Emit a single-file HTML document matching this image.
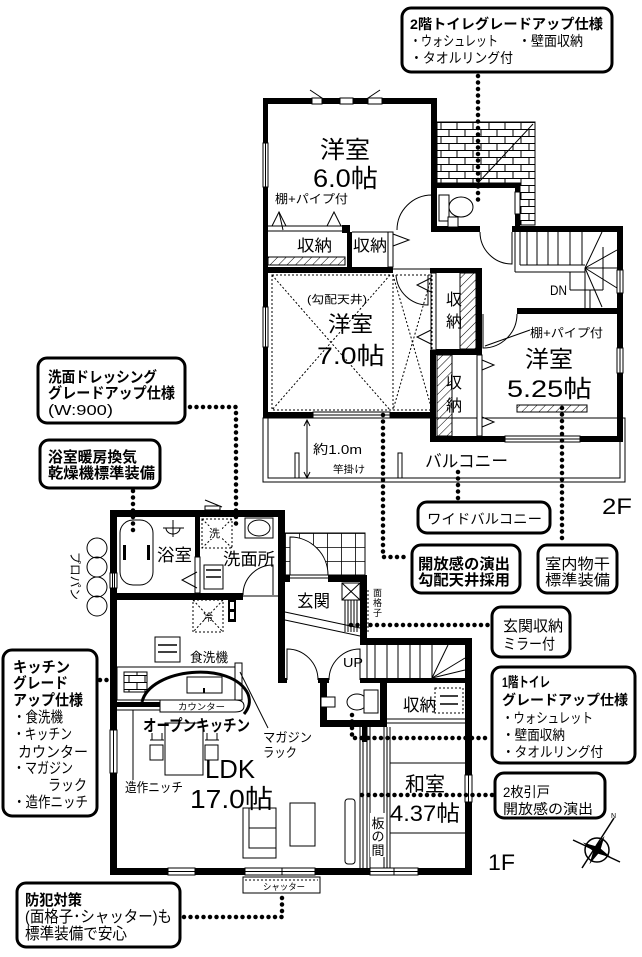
<!DOCTYPE html>
<html><head><meta charset="utf-8">
<style>
html,body{margin:0;padding:0;background:#fff;}
svg{display:block;}
text{font-family:"Liberation Sans","Noto Sans CJK JP",sans-serif;fill:#000;}
.b{font-weight:bold;}
.dot{stroke:#000;stroke-width:4.5;stroke-linecap:round;stroke-dasharray:0 6.5;fill:none;}
.ds{stroke:#000;stroke-width:1;stroke-dasharray:2 2;fill:none;}
.t{stroke:#000;stroke-width:1;fill:none;}
.tw{stroke:#000;stroke-width:1;fill:#fff;}
.cb{stroke:#000;stroke-width:3;fill:#fff;}
</style></head><body>
<svg width="642" height="957" viewBox="0 0 642 957" xmlns="http://www.w3.org/2000/svg">
<defs>
<pattern id="hatch" width="6" height="6" patternUnits="userSpaceOnUse" patternTransform="rotate(45)"><line x1="0" y1="0" x2="0" y2="6" stroke="#000" stroke-width="1"/></pattern>
<pattern id="brick" width="16" height="14" patternUnits="userSpaceOnUse" x="437" y="122">
<rect width="16" height="14" fill="#fff"/>
<path d="M0 0.5H16 M0 7.5H16 M4 0V7 M12 7V14" stroke="#000" stroke-width="1" fill="none"/>
</pattern>
<pattern id="tile" width="14" height="14" patternUnits="userSpaceOnUse" x="285" y="533"><path d="M0 0.5H14 M0.5 0V14" stroke="#000" stroke-width="0.8" fill="none"/></pattern>
</defs>
<rect width="642" height="957" fill="#fff"/>

<!-- ================= 2F ================= -->
<!-- brick roof area -->
<polygon points="437,122 535,122 535,225 520,225 520,183 437,183" fill="url(#brick)" stroke="#000" stroke-width="1"/>
<line x1="533" y1="124" x2="478" y2="183" class="t"/>

<!-- balcony -->
<rect x="263" y="418" width="362" height="64" class="t"/>
<rect x="268" y="418" width="352" height="60" class="t"/>
<rect x="295" y="453" width="4" height="25" class="tw"/>
<rect x="398" y="453" width="4" height="25" class="tw"/>
<line x1="307" y1="420" x2="307" y2="478" class="t"/>
<polyline points="304,426 307,420 310,426" class="t"/>
<polyline points="304,472 307,478 310,472" class="t"/>

<!-- walls -->
<g fill="#000">
<rect x="263" y="98" width="174" height="6"/>
<rect x="263" y="98" width="5" height="320"/>
<rect x="431" y="98" width="6" height="134"/>
<rect x="437" y="183" width="83" height="5"/>
<rect x="515" y="183" width="5" height="49"/>
<rect x="437" y="226" width="43" height="6"/>
<rect x="512" y="226" width="111" height="6"/>
<rect x="617" y="226" width="6" height="216"/>
<rect x="342" y="225" width="8" height="8"/>
<rect x="263" y="267" width="130" height="6"/>
<rect x="347" y="232" width="5" height="35"/>
<rect x="430" y="268" width="6" height="5"/>
<rect x="430" y="350" width="6" height="92"/>
<rect x="436" y="268" width="46" height="5"/>
<rect x="476" y="268" width="6" height="87"/>
<rect x="436" y="349" width="46" height="6"/>
<rect x="263" y="412" width="172" height="6"/>
<rect x="430" y="436" width="193" height="6"/>
<rect x="517" y="308" width="106" height="6"/>
</g>
<!-- closet folding doors 6.0 -->
<line x1="268" y1="226" x2="342" y2="226" class="t"/>
<line x1="268" y1="231" x2="342" y2="231" class="t"/>
<polyline points="272,226 279,212 286,226" class="t"/>
<polyline points="327,226 334,212 341,226" class="t"/>
<line x1="279" y1="212" x2="283" y2="230" class="t"/>
<!-- second closet -->
<line x1="352" y1="232" x2="393" y2="232" class="t"/>
<rect x="388" y="232" width="5" height="35" class="tw"/>
<polyline points="393,234 409,240 393,246" class="t"/>
<!-- hatched strips -->
<rect x="268" y="257" width="77" height="8" fill="url(#hatch)" stroke="#000" stroke-width="1"/>
<rect x="460" y="273" width="16" height="76" fill="url(#hatch)" stroke="#000" stroke-width="1"/>
<rect x="437" y="355" width="15" height="81" fill="url(#hatch)" stroke="#000" stroke-width="1"/>
<rect x="517" y="405" width="70" height="7" fill="url(#hatch)" stroke="#000" stroke-width="1"/>
<!-- upper closet door (left) -->
<rect x="431" y="273" width="5" height="77" class="tw"/>
<polyline points="431,278 417,285 431,292" class="t"/>
<polyline points="431,330 417,337 431,344" class="t"/>
<!-- lower closet door (right) -->
<rect x="477" y="355" width="5" height="81" class="tw"/>
<polyline points="482,360 494,365 482,370" class="t"/>
<polyline points="482,417 494,422 482,427" class="t"/>
<!-- 7.0 corridor top thin -->
<line x1="393" y1="269" x2="430" y2="269" class="t"/>
<!-- dotted ceiling lines -->
<rect x="272" y="275" width="160" height="135" class="ds"/>
<line x1="393" y1="275" x2="393" y2="410" class="ds"/>
<line x1="272" y1="275" x2="390" y2="410" class="ds"/>
<line x1="390" y1="275" x2="272" y2="410" class="ds"/>
<line x1="393" y1="275" x2="432" y2="410" class="ds"/>
<line x1="432" y1="275" x2="393" y2="410" class="ds"/>
<!-- doors 2F -->
<path d="M397,230 A35,35 0 0 1 432,195 L432,230" class="t"/>
<path d="M480,232 A32,32 0 0 0 512,264 L512,232" class="t"/>
<path d="M396,275 A32,32 0 0 0 428,305 L428,275" class="t"/>
<path d="M517,314 A34,34 0 0 1 483,348 L483,314" class="t"/>
<line x1="485" y1="346" x2="530" y2="330" class="t"/>
<!-- 2F toilet -->
<rect x="439" y="195" width="10" height="26" class="tw"/>
<ellipse cx="461" cy="207" rx="12" ry="10" class="tw"/>
<rect x="448" y="217" width="10" height="10" class="tw"/>
<rect x="515" y="192" width="5" height="22" class="tw"/>
<!-- stairs 2F -->
<line x1="515" y1="232" x2="515" y2="272" class="t"/>
<line x1="515" y1="272" x2="585" y2="272" class="t"/>
<line x1="520" y1="265" x2="585" y2="265" class="t"/>
<line x1="520" y1="232" x2="520" y2="265" class="t"/>
<g class="t">
<line x1="527" y1="232" x2="527" y2="265"/>
<line x1="537" y1="232" x2="537" y2="265"/>
<line x1="548" y1="232" x2="548" y2="265"/>
<line x1="558" y1="232" x2="558" y2="265"/>
<line x1="570" y1="232" x2="570" y2="265"/>
<line x1="582" y1="232" x2="582" y2="265"/>
<line x1="585" y1="268" x2="602" y2="232"/>
<line x1="585" y1="268" x2="617" y2="250"/>
<line x1="585" y1="268" x2="617" y2="268"/>
<line x1="585" y1="268" x2="617" y2="288"/>
<line x1="585" y1="268" x2="602" y2="307"/>
<line x1="585" y1="268" x2="585" y2="308"/>
<line x1="570" y1="272" x2="570" y2="290"/>
<line x1="570" y1="290" x2="603" y2="290"/>
<line x1="603" y1="247" x2="603" y2="290"/>
<line x1="590" y1="308" x2="590" y2="290"/>
</g>
<!-- 2F windows -->
<rect x="312" y="98" width="10" height="6" class="tw"/>
<rect x="340" y="98" width="13" height="6" class="tw"/>
<rect x="368" y="98" width="14" height="6" class="tw"/>
<line x1="310" y1="90" x2="322" y2="98" class="t"/>
<line x1="368" y1="98" x2="380" y2="90" class="t"/>
<rect x="263" y="143" width="5" height="44" class="tw"/><line x1="265.5" y1="143" x2="265.5" y2="187" class="t"/>
<rect x="263" y="307" width="5" height="40" class="tw"/><line x1="265.5" y1="307" x2="265.5" y2="347" class="t"/>
<rect x="313" y="412" width="77" height="6" class="tw"/><line x1="313" y1="415" x2="390" y2="415" class="t"/>
<rect x="505" y="436" width="75" height="6" class="tw"/><line x1="505" y1="439" x2="580" y2="439" class="t"/>
<rect x="617" y="270" width="6" height="23" class="tw"/><line x1="620" y1="270" x2="620" y2="293" class="t"/>
<rect x="617" y="348" width="6" height="25" class="tw"/><line x1="620" y1="348" x2="620" y2="373" class="t"/>

<!-- 2F texts -->
<text x="320" y="158" font-size="24" textLength="50" lengthAdjust="spacingAndGlyphs">洋室</text>
<text x="313" y="187" font-size="25" textLength="65" lengthAdjust="spacingAndGlyphs">6.0帖</text>
<text x="275" y="203" font-size="12" textLength="73" lengthAdjust="spacingAndGlyphs">棚+パイプ付</text>
<text x="297" y="251" font-size="16" textLength="35" lengthAdjust="spacingAndGlyphs">収納</text>
<text x="353" y="251" font-size="16" textLength="34" lengthAdjust="spacingAndGlyphs">収納</text>
<text x="307" y="303" font-size="11" textLength="60" lengthAdjust="spacingAndGlyphs">(勾配天井)</text>
<text x="328" y="332" font-size="22" textLength="45" lengthAdjust="spacingAndGlyphs">洋室</text>
<text x="317" y="364" font-size="24" textLength="68" lengthAdjust="spacingAndGlyphs">7.0帖</text>
<text x="446" y="305" font-size="16">収</text>
<text x="446" y="327" font-size="16">納</text>
<text x="446" y="388" font-size="16">収</text>
<text x="446" y="411" font-size="16">納</text>
<text x="530" y="337" font-size="12" textLength="73" lengthAdjust="spacingAndGlyphs">棚+パイプ付</text>
<text x="525" y="367" font-size="23" textLength="48" lengthAdjust="spacingAndGlyphs">洋室</text>
<text x="507" y="397" font-size="24" textLength="85" lengthAdjust="spacingAndGlyphs">5.25帖</text>
<text x="550" y="295" font-size="14" textLength="17" lengthAdjust="spacingAndGlyphs">DN</text>
<text x="313" y="454" font-size="13" textLength="49" lengthAdjust="spacingAndGlyphs">約1.0m</text>
<text x="333" y="473" font-size="10" textLength="32" lengthAdjust="spacingAndGlyphs">竿掛け</text>
<text x="425" y="467" font-size="17" textLength="83" lengthAdjust="spacingAndGlyphs">バルコニー</text>
<text x="602" y="514" font-size="22" textLength="30" lengthAdjust="spacingAndGlyphs">2F</text>

<!-- ================= 1F ================= -->
<!-- porch tiles -->
<rect x="285" y="533" width="80" height="42" fill="url(#tile)" stroke="#000" stroke-width="1"/>
<path d="M290,575 L290,537 A38,38 0 0 1 328,575 Z" class="tw"/>

<g fill="#000">
<rect x="110" y="510" width="175" height="7"/>
<rect x="110" y="510" width="7" height="365"/>
<rect x="195" y="517" width="5" height="40"/>
<rect x="110" y="593" width="133" height="7"/>
<rect x="278" y="510" width="7" height="173"/>
<rect x="285" y="575" width="5" height="7"/>
<rect x="328" y="575" width="39" height="7"/>
<rect x="360" y="575" width="7" height="70"/>
<rect x="360" y="638" width="112" height="7"/>
<rect x="465" y="638" width="7" height="237"/>
<rect x="278" y="678" width="9" height="5"/>
<rect x="318" y="678" width="11" height="5"/>
<rect x="360" y="678" width="112" height="5"/>
<rect x="320" y="678" width="7" height="49"/>
<rect x="320" y="720" width="67" height="7"/>
<rect x="380" y="678" width="7" height="49"/>
<rect x="110" y="868" width="362" height="7"/>
<rect x="362" y="727" width="5" height="15"/>
<rect x="228" y="600" width="8" height="22"/>
</g>
<line x1="290" y1="578" x2="328" y2="578" class="t"/>
<rect x="230" y="602" width="4" height="7" fill="#fff"/>
<rect x="230" y="612" width="4" height="7" fill="#fff"/>
<!-- bath divider lower -->
<rect x="195" y="557" width="5" height="36" class="tw"/>
<polyline points="197,572 182,580 197,588" class="t"/>
<line x1="243" y1="596" x2="278" y2="596" class="t"/>
<!-- windows 1F -->
<rect x="110" y="573" width="7" height="15" class="tw"/><line x1="112.5" y1="573" x2="112.5" y2="588" class="t"/><line x1="114.5" y1="573" x2="114.5" y2="588" class="t"/>
<rect x="110" y="730" width="7" height="43" class="tw"/><line x1="113.5" y1="730" x2="113.5" y2="773" class="t"/>
<rect x="465" y="775" width="7" height="27" class="tw"/><line x1="468.5" y1="775" x2="468.5" y2="802" class="t"/>
<rect x="168" y="868" width="27" height="7" class="tw"/><line x1="168" y1="871.5" x2="195" y2="871.5" class="t"/>
<rect x="245" y="868" width="37" height="7" class="tw"/><line x1="245" y1="871.5" x2="282" y2="871.5" class="t"/>
<rect x="282" y="868" width="33" height="7" class="tw"/><line x1="282" y1="871.5" x2="315" y2="871.5" class="t"/>
<rect x="370" y="868" width="24" height="7" class="tw"/><line x1="370" y1="871.5" x2="394" y2="871.5" class="t"/>
<rect x="394" y="868" width="24" height="7" class="tw"/><line x1="394" y1="871.5" x2="418" y2="871.5" class="t"/>
<!-- vent -->
<rect x="205" y="506" width="15" height="4" class="tw"/>
<line x1="205" y1="500" x2="222" y2="507" class="t"/>
<!-- shutter -->
<rect x="243" y="877" width="77" height="16" class="tw"/>
<line x1="245" y1="880" x2="318" y2="880" class="ds"/>
<text x="263" y="890" font-size="9" textLength="42" lengthAdjust="spacingAndGlyphs">シャッター</text>

<!-- bath -->
<rect x="120" y="520" width="33" height="65" rx="13" class="t"/>
<rect x="123" y="545" width="3" height="15" fill="#000"/>
<rect x="147" y="545" width="3" height="15" fill="#000"/>
<line x1="163" y1="528" x2="184" y2="528" class="t"/>
<line x1="173" y1="520" x2="173" y2="537" class="t"/>
<path d="M166,528 A7,6 0 0 0 180,528" class="t"/>
<!-- 洗 box -->
<rect x="202" y="519" width="30" height="29" class="ds"/>
<line x1="202" y1="519" x2="232" y2="548" class="ds"/>
<line x1="232" y1="519" x2="202" y2="548" class="ds"/>
<rect x="208" y="526" width="14" height="13" fill="#fff"/>
<text x="209" y="537" font-size="11">洗</text>
<!-- sink -->
<rect x="245" y="518" width="28" height="20" class="t"/>
<ellipse cx="259" cy="528" rx="11" ry="8" class="t"/>
<!-- washer box -->
<rect x="204" y="565" width="19" height="24" class="t"/>
<line x1="206" y1="570" x2="221" y2="570" stroke="#000" stroke-width="1.5"/>
<line x1="206" y1="577" x2="221" y2="577" stroke="#000" stroke-width="1.5"/>
<!-- 洗面所 door -->
<path d="M273,595 L273,565 A30,30 0 0 0 243,595" class="t"/>

<!-- genkan -->
<rect x="342" y="583" width="18" height="17" class="t"/>
<line x1="342" y1="583" x2="360" y2="600" class="t"/>
<line x1="360" y1="583" x2="342" y2="600" class="t"/>
<g class="t">
<line x1="345" y1="600" x2="345" y2="632"/>
<line x1="348" y1="600" x2="348" y2="632"/>
<line x1="351" y1="600" x2="351" y2="632"/>
<line x1="354" y1="600" x2="354" y2="632"/>
<line x1="357" y1="600" x2="357" y2="632"/>
<line x1="285" y1="612" x2="360" y2="628"/>
<line x1="285" y1="620" x2="360" y2="636"/>
</g>
<line x1="368" y1="590" x2="368" y2="632" class="ds"/>
<text x="373" y="596" font-size="9">面</text>
<text x="373" y="606" font-size="9">格</text>
<text x="373" y="616" font-size="9">子</text>

<!-- hall doors -->
<path d="M287,680 L287,649 A31,31 0 0 1 318,680" class="t"/>
<path d="M360,680 L360,649 A31,31 0 0 0 329,680" class="t"/>

<!-- stairs 1F -->
<g class="t">
<line x1="367" y1="645" x2="367" y2="678"/>
<line x1="375" y1="645" x2="375" y2="678"/>
<line x1="387" y1="645" x2="387" y2="678"/>
<line x1="398" y1="645" x2="398" y2="678"/>
<line x1="410" y1="645" x2="410" y2="678"/>
<line x1="420" y1="645" x2="420" y2="678"/>
<line x1="432" y1="645" x2="432" y2="678"/>
<line x1="432" y1="678" x2="448" y2="645"/>
<line x1="432" y1="678" x2="465" y2="658"/>
<line x1="432" y1="678" x2="465" y2="670"/>
</g>
<!-- toilet 1F -->
<rect x="321" y="697" width="14" height="10" class="tw"/>
<ellipse cx="357" cy="702" rx="10" ry="8" class="tw"/>
<rect x="364" y="690" width="14" height="23" class="tw"/>
<!-- 収納 1F -->
<rect x="435" y="688" width="28" height="25" class="ds"/>
<line x1="440" y1="696" x2="458" y2="696" stroke="#000" stroke-width="1.5"/>
<line x1="440" y1="704" x2="458" y2="704" stroke="#000" stroke-width="1.5"/>
<line x1="387" y1="719" x2="465" y2="719" class="t"/>
<line x1="387" y1="723" x2="465" y2="723" class="t"/>
<!-- itanoma / washitsu -->
<g class="t">
<line x1="360" y1="727" x2="360" y2="868"/>
<line x1="363" y1="742" x2="363" y2="868"/>
<line x1="367" y1="727" x2="367" y2="868"/>
<line x1="370" y1="727" x2="370" y2="868"/>
<line x1="384" y1="727" x2="384" y2="868"/>
<line x1="387" y1="727" x2="387" y2="868"/>
<line x1="390" y1="727" x2="390" y2="868"/>
<line x1="390" y1="763" x2="465" y2="763"/>
<line x1="390" y1="833" x2="465" y2="833"/>
</g>
<rect x="370" y="813" width="15" height="44" fill="#fff"/>
<text x="378" y="828" font-size="13" text-anchor="middle">板</text>
<text x="378" y="841" font-size="13" text-anchor="middle">の</text>
<text x="378" y="855" font-size="13" text-anchor="middle">間</text>

<!-- kitchen -->
<rect x="193" y="600" width="30" height="32" class="ds"/>
<line x1="193" y1="600" x2="223" y2="632" class="ds"/>
<line x1="223" y1="600" x2="193" y2="632" class="ds"/>
<text x="203" y="621" font-size="10">冷</text>
<rect x="155" y="637" width="25" height="25" class="t"/>
<line x1="158" y1="645" x2="177" y2="645" stroke="#000" stroke-width="1.5"/>
<line x1="158" y1="652" x2="177" y2="652" stroke="#000" stroke-width="1.5"/>
<rect x="117" y="667" width="118" height="33" class="t"/>
<rect x="235" y="663" width="7" height="37" class="t"/>
<rect x="124" y="672" width="23" height="20" fill="url(#brick)" stroke="#000" stroke-width="1"/>
<rect x="187" y="677" width="35" height="16" class="t"/>
<line x1="204" y1="688" x2="204" y2="693" stroke="#000" stroke-width="2"/>
<path d="M160,700 L235,700 Q244,700 244,706 Q244,712 235,712 L160,712 Z" class="tw"/>
<rect x="117" y="702" width="43" height="5" fill="#000"/>
<line x1="117" y1="710" x2="160" y2="710" class="t"/>
<line x1="133" y1="710" x2="133" y2="780" class="t"/>
<path d="M142,702 C150,668 232,660 248,694 C251,702 249,708 244,714" stroke="#000" stroke-width="3" fill="none"/>
<line x1="240" y1="672" x2="268" y2="728" class="t"/>
<text x="178" y="710" font-size="9" textLength="47" lengthAdjust="spacingAndGlyphs">カウンター</text>
<!-- dining -->
<rect x="165" y="723" width="38" height="52" class="tw"/>
<rect x="150" y="745" width="13" height="15" class="t"/>
<rect x="205" y="745" width="13" height="15" class="t"/>
<line x1="152" y1="733" x2="152" y2="740" class="t"/><line x1="162" y1="733" x2="162" y2="740" class="t"/><line x1="150" y1="740" x2="164" y2="740" class="t"/>
<line x1="207" y1="733" x2="207" y2="740" class="t"/><line x1="217" y1="733" x2="217" y2="740" class="t"/><line x1="205" y1="740" x2="219" y2="740" class="t"/>
<!-- living -->
<rect x="243" y="808" width="33" height="50" class="t"/>
<rect x="249" y="808" width="27" height="40" class="t"/>
<line x1="249" y1="828" x2="276" y2="828" class="t"/>
<rect x="290" y="803" width="25" height="43" class="t"/>
<rect x="345" y="799" width="10" height="65" rx="3" class="t"/>

<!-- propane -->
<g class="t" stroke-width="1.3">
<circle cx="97" cy="548" r="10"/>
<circle cx="97" cy="567" r="10"/>
<circle cx="97" cy="587" r="10"/>
<circle cx="97" cy="606" r="10"/>
</g>
<text transform="translate(71,552) rotate(90)" font-size="12" textLength="48" lengthAdjust="spacingAndGlyphs">プロパン</text>

<!-- 1F texts -->
<text x="157" y="561" font-size="17" textLength="35" lengthAdjust="spacingAndGlyphs">浴室</text>
<text x="223" y="565" font-size="17" textLength="52" lengthAdjust="spacingAndGlyphs">洗面所</text>
<text x="297" y="607" font-size="17" textLength="33" lengthAdjust="spacingAndGlyphs">玄関</text>
<text x="190" y="662" font-size="13" textLength="38" lengthAdjust="spacingAndGlyphs">食洗機</text>
<text x="343" y="667" font-size="13" textLength="20" lengthAdjust="spacingAndGlyphs">UP</text>
<text x="403" y="711" font-size="17" textLength="33" lengthAdjust="spacingAndGlyphs">収納</text>
<text x="405" y="791" font-size="20" textLength="40" lengthAdjust="spacingAndGlyphs">和室</text>
<text x="390" y="821" font-size="22" textLength="70" lengthAdjust="spacingAndGlyphs">4.37帖</text>
<text x="143" y="731" font-size="16" class="b" textLength="107" lengthAdjust="spacingAndGlyphs">オープンキッチン</text>
<text x="263" y="742" font-size="13" textLength="49" lengthAdjust="spacingAndGlyphs">マガジン</text>
<text x="263" y="757" font-size="13" textLength="34" lengthAdjust="spacingAndGlyphs">ラック</text>
<text x="205" y="778" font-size="26" textLength="50" lengthAdjust="spacingAndGlyphs">LDK</text>
<text x="190" y="808" font-size="26" textLength="83" lengthAdjust="spacingAndGlyphs">17.0帖</text>
<text x="125" y="792" font-size="13" textLength="58" lengthAdjust="spacingAndGlyphs">造作ニッチ</text>
<text x="488" y="870" font-size="22" textLength="27" lengthAdjust="spacingAndGlyphs">1F</text>

<!-- compass -->
<circle cx="597" cy="850" r="12" fill="none" stroke="#000" stroke-width="1.5"/>
<line x1="582" y1="868" x2="614" y2="818" stroke="#000" stroke-width="1.5"/>
<line x1="573" y1="840" x2="620" y2="862" stroke="#000" stroke-width="1.5"/>
<polygon points="604.5,836 600.8,848.8 611.1,857.5 598.2,853.8 589.5,864.1 593.2,851.2 582.9,842.5 595.8,846.2" fill="#000"/>
<text x="611" y="818" font-size="7">N</text>

<!-- ================= dotted leaders ================= -->
<path d="M478,76 V200" class="dot"/>
<path d="M190,407 H236 V530" class="dot"/>
<path d="M133,491 V532" class="dot"/>
<path d="M383,415 V557 H410" class="dot"/>
<path d="M458,472 V500" class="dot"/>
<path d="M562,408 V542" class="dot"/>
<path d="M351,625 H490" class="dot"/>
<path d="M352,715 V738 H490" class="dot"/>
<path d="M362,795 H493" class="dot"/>
<path d="M100,680 H115" class="dot"/>
<path d="M184,917 H282 V896" class="dot"/>

<!-- ================= callouts ================= -->
<rect x="402" y="8" width="210" height="64" rx="9" class="cb"/>
<text x="410" y="29" font-size="14" class="b" textLength="193" lengthAdjust="spacingAndGlyphs">2階トイレグレードアップ仕様</text>
<text x="410" y="46" font-size="14" textLength="88" lengthAdjust="spacingAndGlyphs">・ウォシュレット</text>
<text x="518" y="46" font-size="14" textLength="65" lengthAdjust="spacingAndGlyphs">・壁面収納</text>
<text x="410" y="63" font-size="14" textLength="103" lengthAdjust="spacingAndGlyphs">・タオルリング付</text>

<rect x="38" y="358" width="147" height="65" rx="9" class="cb"/>
<text x="48" y="382" font-size="15" class="b" textLength="109" lengthAdjust="spacingAndGlyphs">洗面ドレッシング</text>
<text x="48" y="398" font-size="15" class="b" textLength="127" lengthAdjust="spacingAndGlyphs">グレードアップ仕様</text>
<text x="48" y="415" font-size="15" textLength="65" lengthAdjust="spacingAndGlyphs">(W:900)</text>

<rect x="40" y="440" width="120" height="48" rx="9" class="cb"/>
<text x="48" y="462" font-size="15" class="b" textLength="89" lengthAdjust="spacingAndGlyphs">浴室暖房換気</text>
<text x="48" y="478" font-size="15" class="b" textLength="107" lengthAdjust="spacingAndGlyphs">乾燥機標準装備</text>

<rect x="3" y="650" width="94" height="166" rx="9" class="cb"/>
<text x="13" y="672" font-size="15" class="b" textLength="57" lengthAdjust="spacingAndGlyphs">キッチン</text>
<text x="13" y="688" font-size="15" class="b" textLength="55" lengthAdjust="spacingAndGlyphs">グレード</text>
<text x="13" y="705" font-size="15" class="b" textLength="70" lengthAdjust="spacingAndGlyphs">アップ仕様</text>
<text x="13" y="722" font-size="15" textLength="50" lengthAdjust="spacingAndGlyphs">・食洗機</text>
<text x="13" y="739" font-size="15" textLength="59" lengthAdjust="spacingAndGlyphs">・キッチン</text>
<text x="18" y="757" font-size="15" textLength="70" lengthAdjust="spacingAndGlyphs">カウンター</text>
<text x="13" y="773" font-size="15" textLength="60" lengthAdjust="spacingAndGlyphs">・マガジン</text>
<text x="48" y="790" font-size="15" textLength="39" lengthAdjust="spacingAndGlyphs">ラック</text>
<text x="13" y="807" font-size="15" textLength="75" lengthAdjust="spacingAndGlyphs">・造作ニッチ</text>

<rect x="17" y="883" width="163" height="64" rx="9" class="cb"/>
<text x="25" y="905" font-size="15" class="b" textLength="57" lengthAdjust="spacingAndGlyphs">防犯対策</text>
<text x="25" y="922" font-size="16" textLength="147" lengthAdjust="spacingAndGlyphs">(面格子･シャッター)も</text>
<text x="25" y="939" font-size="16" textLength="102" lengthAdjust="spacingAndGlyphs">標準装備で安心</text>

<rect x="418" y="502" width="132" height="31" rx="9" class="cb"/>
<text x="427" y="524" font-size="14" textLength="115" lengthAdjust="spacingAndGlyphs">ワイドバルコニー</text>

<rect x="412" y="545" width="108" height="48" rx="9" class="cb"/>
<text x="418" y="569" font-size="15" class="b" textLength="92" lengthAdjust="spacingAndGlyphs">開放感の演出</text>
<text x="418" y="585" font-size="15" class="b" textLength="92" lengthAdjust="spacingAndGlyphs">勾配天井採用</text>

<rect x="538" y="545" width="79" height="48" rx="9" class="cb"/>
<text x="545" y="569" font-size="15" textLength="65" lengthAdjust="spacingAndGlyphs">室内物干</text>
<text x="545" y="585" font-size="15" textLength="65" lengthAdjust="spacingAndGlyphs">標準装備</text>

<rect x="492" y="607" width="78" height="50" rx="9" class="cb"/>
<text x="503" y="631" font-size="15" textLength="60" lengthAdjust="spacingAndGlyphs">玄関収納</text>
<text x="503" y="649" font-size="15" textLength="52" lengthAdjust="spacingAndGlyphs">ミラー付</text>

<rect x="492" y="667" width="143" height="96" rx="9" class="cb"/>
<text x="502" y="687" font-size="14" class="b" textLength="48" lengthAdjust="spacingAndGlyphs">1階トイレ</text>
<text x="502" y="705" font-size="14" class="b" textLength="126" lengthAdjust="spacingAndGlyphs">グレードアップ仕様</text>
<text x="502" y="723" font-size="14" textLength="91" lengthAdjust="spacingAndGlyphs">・ウォシュレット</text>
<text x="502" y="740" font-size="14" textLength="63" lengthAdjust="spacingAndGlyphs">・壁面収納</text>
<text x="502" y="757" font-size="14" textLength="101" lengthAdjust="spacingAndGlyphs">・タオルリング付</text>

<rect x="495" y="773" width="110" height="45" rx="9" class="cb"/>
<text x="503" y="797" font-size="14" textLength="47" lengthAdjust="spacingAndGlyphs">2枚引戸</text>
<text x="503" y="814" font-size="14" textLength="90" lengthAdjust="spacingAndGlyphs">開放感の演出</text>
</svg>
</body></html>
